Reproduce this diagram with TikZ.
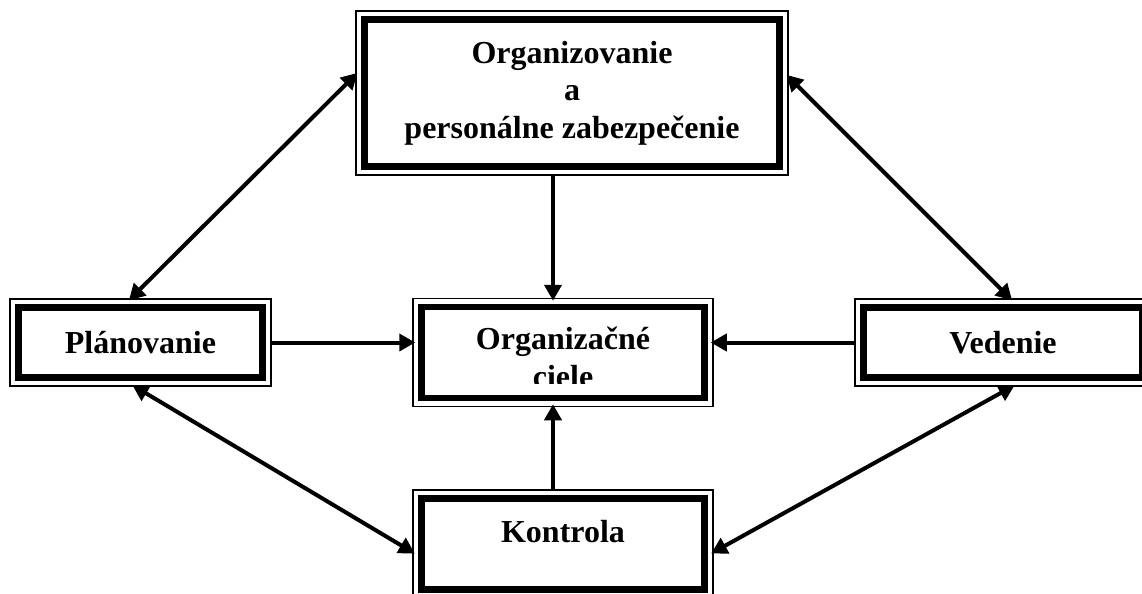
\documentclass[tikz,border=0pt]{standalone}
\usepackage{fontspec}
\setmainfont{Liberation Serif}
\usetikzlibrary{arrows.meta}
\tikzset{
  box/.style={draw, line width=0.75pt, fill=white, inner sep=0pt, align=center,
    font=\bfseries\fontsize{16}{18.75}\selectfont,
    path picture={\draw[line width=3.25pt]
      ([shift={(4.25pt,4.25pt)}]path picture bounding box.south west) rectangle
      ([shift={(-4.25pt,-4.25pt)}]path picture bounding box.north east);}},
  boxtext/.style={inner sep=0pt, align=center, font=\bfseries\fontsize{16}{18.75}\selectfont},
  arr/.style={line width=2pt, -{Triangle[length=8pt,width=8.5pt]}, shorten >=-1.5pt},
  darr/.style={line width=2pt, {Triangle[length=8pt,width=8.5pt]}-{Triangle[length=8pt,width=8.5pt]},
    shorten >=-1.5pt, shorten <=-1.5pt}
}
\begin{document}
\begin{tikzpicture}[x=0.5pt, y=-0.5pt]
                \useasboundingbox (0,0) rectangle (1142,594);

                \node[box, minimum width=216pt, minimum height=82pt] (org) at (572,93)
                  {Organizovanie\\a\\personálne zabezpečenie};
                \node[box, minimum width=130.5pt, minimum height=43.5pt] (plan) at (140.5,342.5) {Plánovanie};
                \node[box, minimum width=150pt, minimum height=54pt] (ciele) at (563,352.5) {};
                \node[box, minimum width=148pt, minimum height=43.5pt] (ved) at (1003,342.5) {Vedenie};
                \node[box, minimum width=150pt, minimum height=54pt, text height=11pt, text depth=13pt]
                  (kon) at (563,544) {Kontrola};

                \begin{scope}
                  \clip (413,299) rectangle (713,383);
                  \node[boxtext] (cieletxt) at (563,357.5) {Organizačné\\ciele};
                \end{scope}

                \draw[arr] ([xshift=-5pt]ciele.north |- org.south) -- ([xshift=-5pt]ciele.north);
                \draw[arr] ([xshift=-5pt]kon.north) -- ([xshift=-5pt]ciele.south);
                \draw[arr] (plan.east) -- (plan.east -| ciele.west);
                \draw[arr] (ved.west) -- (ved.west -| ciele.east);

                \draw[darr] ([yshift=9pt]org.west) -- ([xshift=-4.75pt]plan.north);
                \draw[darr] ([yshift=8pt]org.east) -- ([xshift=3.5pt]ved.north);
                \draw[darr] ([xshift=-2.75pt]plan.south) -- ([yshift=-4pt]kon.west);
                \draw[darr] ([xshift=4.5pt]ved.south) -- ([yshift=-4pt]kon.east);

            \end{tikzpicture}
\end{document}
